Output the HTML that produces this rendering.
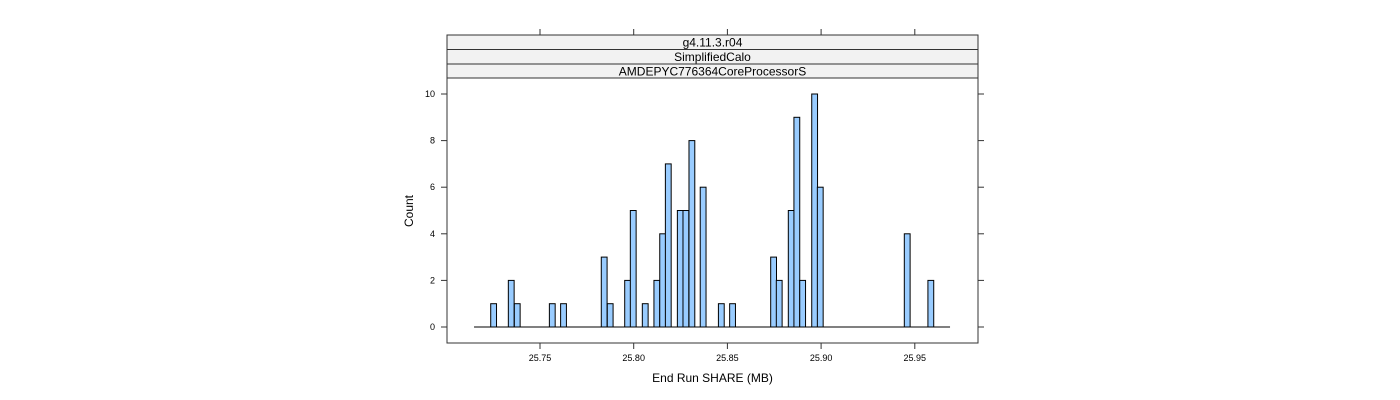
<!DOCTYPE html>
<html><head><meta charset="utf-8"><style>
body{margin:0;background:#fff;}
svg{display:block;font-family:"Liberation Sans",sans-serif;}
</style></head><body>
<svg id="chart" width="1400" height="400" xmlns="http://www.w3.org/2000/svg">
<rect x="447" y="35" width="531" height="14.5" fill="#f2f2f2" stroke="#333" stroke-width="1"/>
<text x="712.5" y="46.5" font-size="12" text-anchor="middle" fill="#000">g4.11.3.r04</text>
<rect x="447" y="49.5" width="531" height="14.5" fill="#f2f2f2" stroke="#333" stroke-width="1"/>
<text x="712.5" y="61" font-size="12" text-anchor="middle" fill="#000">SimplifiedCalo</text>
<rect x="447" y="64" width="531" height="14" fill="#f2f2f2" stroke="#333" stroke-width="1"/>
<text x="712.5" y="75.5" font-size="12" text-anchor="middle" fill="#000">AMDEPYC776364CoreProcessorS</text>
<rect x="447" y="78" width="531" height="265" fill="none" stroke="#333" stroke-width="1"/>
<g id="marks"></g>
<text x="712.5" y="382" font-size="12" text-anchor="middle">End Run SHARE (MB)</text>
<text x="413" y="211" font-size="12" text-anchor="middle" transform="rotate(-90 413 211)">Count</text>
</svg>
<script>
const binStarts=[25.7237,25.7331,25.7363,25.7550,25.7610,25.7827,25.7859,25.7952,25.7982,25.8046,25.8108,25.8139,25.8169,25.8233,25.8263,25.8295,25.8355,25.8452,25.8512,25.8731,25.8761,25.8825,25.8855,25.8886,25.8950,25.8980,25.9444,25.9570];
const counts=[1,2,1,1,1,3,1,2,5,1,2,4,7,5,5,8,6,1,1,3,2,5,9,2,10,6,4,2];
const binWidth=0.0031;
const xTicks=[25.75,25.80,25.85,25.90,25.95];
const yTicks=[0,2,4,6,8,10];
const xRange=[25.7148,25.9688];
const NS="http://www.w3.org/2000/svg";
function xs(v){return 540+(v-25.75)*1874;}
function ys(c){return 327-c*23.3;}
const svg=document.getElementById('chart');
const g=document.getElementById('marks');
function mk(tag,attrs,parent){const e=document.createElementNS(NS,tag);for(const k in attrs)e.setAttribute(k,attrs[k]);(parent||g).appendChild(e);return e;}
const base=mk('line',{x1:xs(xRange[0]),x2:xs(xRange[1]),y1:ys(0),y2:ys(0),stroke:'#000','stroke-width':1});


binStarts.forEach((b,i)=>{
  const x=xs(b),w=binWidth*1874,y=ys(counts[i]);
  const r=mk('rect',{x:x,y:y,width:w,height:ys(0)-y,fill:'#99ccff',stroke:'#000','stroke-width':1});
  
  
});
xTicks.forEach(t=>{
  const x=xs(t);
  const a=mk('line',{x1:x,x2:x,y1:343,y2:349,stroke:'#333'});
  
  
  const b=mk('line',{x1:x,x2:x,y1:29,y2:35,stroke:'#333'});
  
  
  const l=mk('text',{x:x,y:361,'font-size':9,'text-anchor':'middle'});
  l.textContent=t.toFixed(2);
  
  
});
yTicks.forEach(t=>{
  const y=ys(t);
  const a=mk('line',{x1:441,x2:447,y1:y,y2:y,stroke:'#333'});
  
  
  const b=mk('line',{x1:978,x2:984,y1:y,y2:y,stroke:'#333'});
  
  
  const l=mk('text',{x:435,y:y+3,'font-size':9,'text-anchor':'end'});
  l.textContent=t;
  
  
});
</script>
</body></html>
